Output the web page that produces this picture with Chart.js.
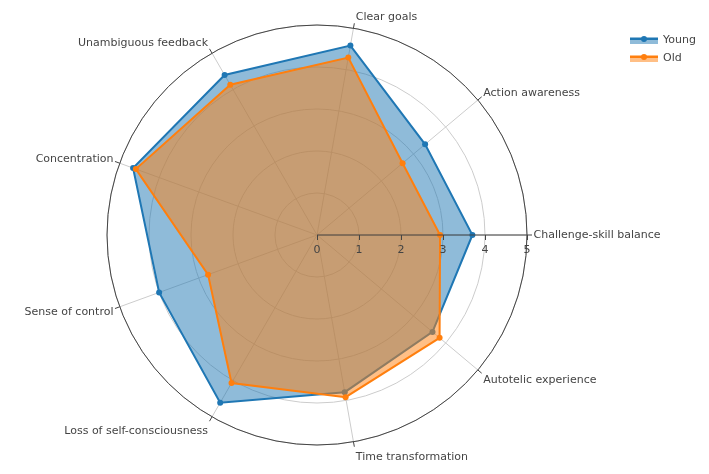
<!DOCTYPE html>
<html>
<head>
<meta charset="utf-8">
<script src="https://cdn.jsdelivr.net/npm/chart.js@4.4.1/dist/chart.umd.min.js"></script>
<style>
  html, body { margin: 0; padding: 0; background: #fff; }
  canvas { display: block; }
</style>
</head>
<body>
<canvas id="radar" width="709" height="474"></canvas>
<script>
// categories in counter-clockwise order, starting at 3 o'clock
const categories = [
  'Challenge-skill balance', 'Action awareness', 'Clear goals',
  'Unambiguous feedback', 'Concentration', 'Sense of control',
  'Loss of self-consciousness', 'Time transformation', 'Autotelic experience'
];
const young = [3.70, 3.36, 4.58, 4.40, 4.66, 4.00, 4.61, 3.80, 3.59];
const old   = [2.93, 2.66, 4.29, 4.13, 4.59, 2.76, 4.07, 3.92, 3.81];
const radialTicks = [0, 1, 2, 3, 4, 5];
const seriesNames = ['Young', 'Old'];

const BLUE = '#1f77b4';
const ORANGE = '#ff7f0e';
const TEXT = '#444';
const FONT = '11px "DejaVu Sans", Verdana, sans-serif';

// chart.js goes clockwise, so reorder: 0, 8, 7, ... 1
const order = [0, 8, 7, 6, 5, 4, 3, 2, 1];
const pick = arr => order.map(i => arr[i]);

//------------------ axis line, ticks and labels drawn on top (plotly style) -------------//
const polarDecor = {
  id: 'polarDecor',
  afterDatasetsDraw(chart) {
    const scale = chart.scales.r;
    const ctx = chart.ctx;
    const cx = scale.xCenter, cy = scale.yCenter;
    const R = scale.getDistanceFromCenterForValue(5);

    ctx.save();
    // outer circle
    ctx.strokeStyle = TEXT;
    ctx.lineWidth = 1;
    ctx.beginPath();
    ctx.arc(cx, cy, R, 0, Math.PI * 2);
    ctx.stroke();

    // radial axis line along first category
    const end = scale.getPointPositionForValue(0, 5);
    ctx.beginPath();
    ctx.moveTo(cx, cy);
    ctx.lineTo(end.x, end.y);
    ctx.stroke();

    ctx.font = FONT;
    ctx.fillStyle = TEXT;
    ctx.textAlign = 'center';
    ctx.textBaseline = 'middle';
    radialTicks.forEach(v => {
      const p = scale.getPointPositionForValue(0, v);
      ctx.beginPath();
      ctx.moveTo(p.x + 0.5, p.y);
      ctx.lineTo(p.x + 0.5, p.y + 5);
      ctx.stroke();
      ctx.fillText(String(v), p.x, p.y + 15);
    });

    // angular ticks + category labels
    const labels = chart.data.labels;
    labels.forEach((lab, i) => {
      const a = scale.getPointPosition(i, R);
      const b = scale.getPointPosition(i, R + 5);
      const cos = (b.x - cx) / (R + 5);
      const sin = -(b.y - cy) / (R + 5);
      ctx.strokeStyle = TEXT;
      ctx.beginPath();
      ctx.moveTo(a.x, a.y);
      ctx.lineTo(b.x, b.y);
      ctx.stroke();

      let x = b.x;
      if (cos > 0.05) { ctx.textAlign = 'left'; x += 1.5; }
      else if (cos < -0.05) { ctx.textAlign = 'right'; x -= 1.5; }
      else ctx.textAlign = 'center';
      const y = b.y - sin * 6 + (sin < 0 ? -sin * 5 : 0);
      ctx.fillText(lab, x, y);
    });

    // legend
    const legendItems = [
      { name: seriesNames[0], color: BLUE, fill: 'rgba(31,119,180,0.5)', y: 40 },
      { name: seriesNames[1], color: ORANGE, fill: 'rgba(255,127,14,0.5)', y: 58 }
    ];
    legendItems.forEach(it => {
      ctx.fillStyle = it.fill;
      ctx.fillRect(630, it.y - 3, 28, 7);
      ctx.strokeStyle = it.color;
      ctx.lineWidth = 2;
      ctx.beginPath();
      ctx.moveTo(630, it.y - 1);
      ctx.lineTo(658, it.y - 1);
      ctx.stroke();
      ctx.fillStyle = it.color;
      ctx.beginPath();
      ctx.arc(644, it.y - 1, 3, 0, Math.PI * 2);
      ctx.fill();
      ctx.fillStyle = TEXT;
      ctx.textAlign = 'left';
      ctx.fillText(it.name, 663, it.y);
    });
    ctx.restore();
  }
};

const config = {
  type: 'radar',
  data: {
    labels: pick(categories),
    datasets: [
      {
        label: seriesNames[0],
        data: pick(young),
        borderColor: BLUE,
        backgroundColor: 'rgba(31,119,180,0.5)',
        pointBackgroundColor: BLUE,
        pointBorderWidth: 0,
        pointRadius: 3,
        borderWidth: 2,
        fill: true,
        order: 2
      },
      {
        label: seriesNames[1],
        data: pick(old),
        borderColor: ORANGE,
        backgroundColor: 'rgba(255,127,14,0.5)',
        pointBackgroundColor: ORANGE,
        pointBorderWidth: 0,
        pointRadius: 3,
        borderWidth: 2,
        fill: true,
        order: 1
      }
    ]
  },
  options: {
    responsive: false,
    animation: false,
    devicePixelRatio: 1,
    layout: { padding: { left: 107, right: 181, top: 25, bottom: 28 } },
    plugins: {
      legend: { display: false },
      tooltip: { enabled: false }
    },
    scales: {
      r: {
        min: 0,
        max: 5,
        startAngle: 90,
        ticks: { display: false, stepSize: 1 },
        pointLabels: { display: false },
        grid: {
          circular: true,
          color: '#cccccc',
          lineWidth: 1
        },
        angleLines: { color: '#cccccc', lineWidth: 1 }
      }
    }
  },
  plugins: [polarDecor]
};

new Chart(document.getElementById('radar'), config);
</script>
</body>
</html>
